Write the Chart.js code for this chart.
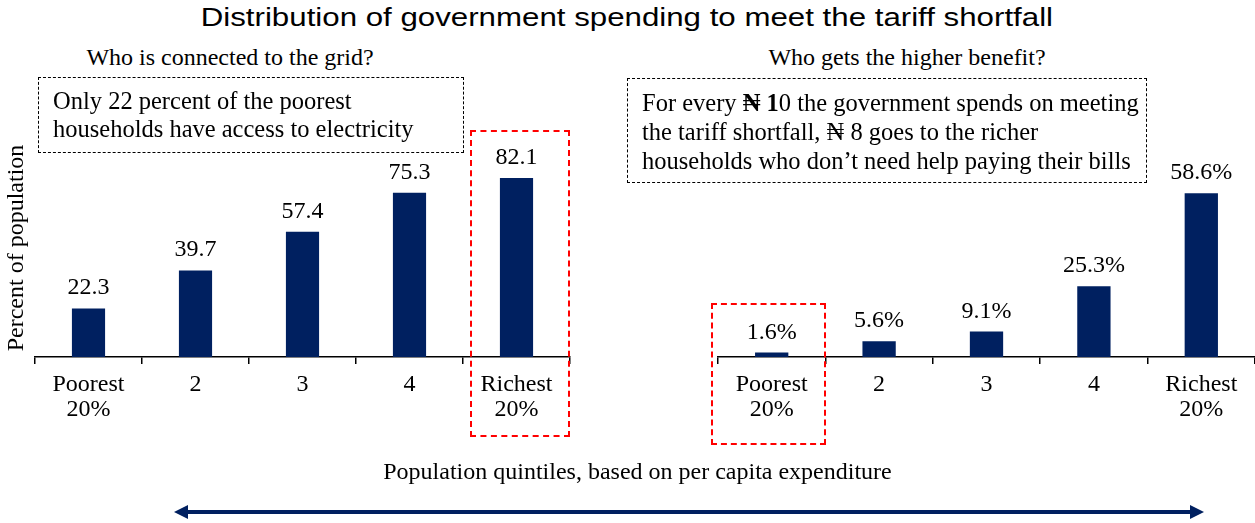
<!DOCTYPE html>
<html>
<head>
<meta charset="utf-8">
<script src="https://cdn.jsdelivr.net/npm/chart.js@4.4.1/dist/chart.umd.min.js"></script>
<style>
body{margin:0;background:#fff;width:1255px;height:523px;overflow:hidden;position:relative;font-family:"Liberation Serif","Times New Roman",serif;color:#000;}
.abs{position:absolute;}
#title{left:0;width:1255px;top:3px;text-align:center;font-family:"Liberation Sans",Arial,sans-serif;font-size:25px;transform:scaleX(1.25);transform-origin:630px 0;}
.sub{top:44px;font-size:24px;text-align:center;white-space:nowrap;}
.note{border:1.5px dashed #000;font-size:24.5px;box-sizing:border-box;padding-left:14px;white-space:nowrap;}
.red{border:2.5px dashed #ff0000;box-sizing:border-box;}
.wrap{position:absolute;top:0;height:523px;}
#xlabel{left:0;width:1275px;top:458px;text-align:center;font-size:24px;}
</style>
</head>
<body>
<div id="title" class="abs">Distribution of government spending to meet the tariff shortfall</div>
<div class="abs sub" style="left:45px;width:370px;">Who is connected to the grid?</div>
<div class="abs sub" style="left:722px;width:370px;">Who gets the higher benefit?</div>

<div class="wrap" style="left:0;width:600px;"><canvas id="left"></canvas></div>
<div class="wrap" style="left:620px;width:635px;"><canvas id="right"></canvas></div>

<div class="abs note" style="left:38px;top:77px;width:426px;height:76px;line-height:28px;padding-top:9px;">Only 22 percent of the poorest<br>households have access to electricity</div>
<div class="abs note" style="left:627px;top:78px;width:520px;height:105px;line-height:29px;padding-top:9px;">For every <b>&#8358; 1</b>0 the government spends on meeting<br>the tariff shortfall, &#8358; 8 goes to the richer<br>households who don’t need help paying their bills</div>

<div class="abs red" style="left:470px;top:130px;width:100px;height:307px;"></div>
<div class="abs red" style="left:711px;top:303px;width:115px;height:142px;"></div>

<div id="xlabel" class="abs">Population quintiles, based on per capita expenditure</div>
<svg class="abs" style="left:0;top:0;" width="1255" height="523">
  <line x1="185" y1="512" x2="1193" y2="512" stroke="#002060" stroke-width="4"/>
  <polygon points="174,512 188,505 188,519" fill="#002060"/>
  <polygon points="1204,512 1190,505 1190,519" fill="#002060"/>
</svg>

<script>
var quintiles = [['Poorest', '20%'], '2', '3', '4', ['Richest', '20%']];
var connected = [22.3, 39.7, 57.4, 75.3, 82.1];
var benefit = [1.6, 5.6, 9.1, 25.3, 58.6];

var navy = '#002060';
var serif = '"Liberation Serif", "Times New Roman", serif';

// draws the number above each bar
var valueLabels = {
    id: 'valueLabels',
    afterDatasetsDraw: function(chart, args, opts) {
        var ctx = chart.ctx;
        var ds = chart.data.datasets[0];
        ctx.save();
        ctx.font = '24px ' + serif;
        ctx.fillStyle = '#000';
        ctx.textAlign = 'center';
        chart.getDatasetMeta(0).data.forEach(function(bar, i) {
            ctx.fillText(ds.data[i].toFixed(1) + (opts.suffix || ''), bar.x, bar.y - 14);
        });
        ctx.restore();
    }
};

function makeChart(id, values, max, suffix, yTitle, padLeft, padRight) {
    return new Chart(document.getElementById(id), {
        type: 'bar',
        data: {
            labels: quintiles,
            datasets: [{
                data: values,
                backgroundColor: navy,
                barPercentage: 0.31,
                categoryPercentage: 1
            }]
        },
        plugins: [valueLabels],
        options: {
            responsive: true,
            maintainAspectRatio: false,
            animation: false,
            layout: { padding: { top: 139, bottom: 76, left: padLeft, right: padRight } },
            plugins: {
                legend: { display: false },
                tooltip: { enabled: false },
                valueLabels: { suffix: suffix }
            },
            scales: {
                x: {
                    afterFit: function(s) { s.height = 90; },
                    grid: { drawOnChartArea: false, drawTicks: true, tickLength: 7, color: '#000', lineWidth: 1.5 },
                    border: { display: true, color: '#000', width: 1.5 },
                    ticks: { color: '#000', padding: 8, font: { family: serif, size: 24, lineHeight: 1.05 } }
                },
                y: {
                    display: !!yTitle,
                    min: 0,
                    max: max,
                    afterFit: function(s) { s.width = yTitle ? 35 : 0; },
                    grid: { display: false },
                    border: { display: false },
                    ticks: { display: false },
                    title: { display: !!yTitle, text: yTitle, color: '#000', padding: 2, font: { family: serif, size: 24 } }
                }
            }
        }
    });
}

makeChart('left', connected, 100, '', 'Percent of population', 0, 30);
makeChart('right', benefit, 78, '%', '', 98, 0);
</script>
</body>
</html>
